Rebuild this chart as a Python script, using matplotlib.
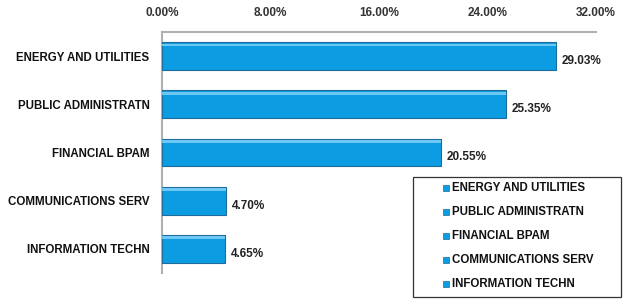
import matplotlib
matplotlib.use("Agg")
import matplotlib.pyplot as plt
from matplotlib.patches import Rectangle

categories = ["ENERGY AND UTILITIES", "PUBLIC ADMINISTRATN", "FINANCIAL BPAM",
              "COMMUNICATIONS SERV", "INFORMATION TECHN"]
values = [29.03, 25.35, 20.55, 4.70, 4.65]
xticks = [0, 8, 16, 24, 32]
xtick_labels = ["0.00%", "8.00%", "16.00%", "24.00%", "32.00%"]

plt.rcParams["font.family"] = ["Liberation Sans", "DejaVu Sans"]

W, H = 633, 303
fig = plt.figure(figsize=(W / 100, H / 100), dpi=100)
ax = fig.add_axes([162 / W, 1 - 273 / H, 434 / W, 241 / H])

bar_color = "#0c9ce2"
edge_color = "#1d6c9c"
ypos = list(range(len(categories)))
for i, (c, v) in enumerate(zip(categories, values)):
    ax.barh(i, v, height=0.58, color=bar_color, edgecolor=edge_color, linewidth=0.8, zorder=3)
    ax.barh(i - 0.23, v, height=0.06, color="#6cc8f2", linewidth=0, zorder=4)
    ax.text(v + 0.45, i + 0.1, f"{v:.2f}%", va="center", ha="left",
            fontsize=8.5, fontweight="bold", color="#222222")

ax.set_xlim(0, 32)
ax.set_ylim(len(categories) - 0.5, -0.5)
ax.set_xticks(xticks)
ax.set_xticklabels(xtick_labels)
ax.xaxis.tick_top()
ax.tick_params(axis="x", length=0, pad=9, labelsize=8.5, colors="#333333")
for lab in ax.get_xticklabels():
    lab.set_fontweight("bold")
ax.set_yticks(ypos)
ax.set_yticklabels(categories)
ax.tick_params(axis="y", length=0, pad=9, labelsize=8.3)
for lab in ax.get_yticklabels():
    lab.set_fontweight("bold")
    lab.set_color("#111111")

for s in ["right", "bottom"]:
    ax.spines[s].set_visible(False)
ax.spines["top"].set_color("#b0b0b0")
ax.spines["left"].set_color("#b0b0b0")
ax.spines["top"].set_linewidth(1.5)
ax.spines["left"].set_linewidth(1.5)

# legend box drawn in figure pixel coordinates
def fx(px):
    return px / W

def fy(py):
    return 1 - py / H

fig.patches.append(Rectangle((fx(413), fy(297)), fx(621) - fx(413), fy(177) - fy(297),
                             transform=fig.transFigure, facecolor="white",
                             edgecolor="#333333", linewidth=0.9, zorder=5))
for k, c in enumerate(categories):
    yc = 188 + 24 * k
    fig.patches.append(Rectangle((fx(443), fy(yc + 3)), fx(6), 6 / H,
                                 transform=fig.transFigure, facecolor=bar_color,
                                 edgecolor=edge_color, linewidth=0.5, zorder=6))
    fig.text(fx(452), fy(yc), c, ha="left", va="center", fontsize=8.3,
             fontweight="bold", color="#111111", zorder=6)

fig.savefig("out.png", dpi=100)
